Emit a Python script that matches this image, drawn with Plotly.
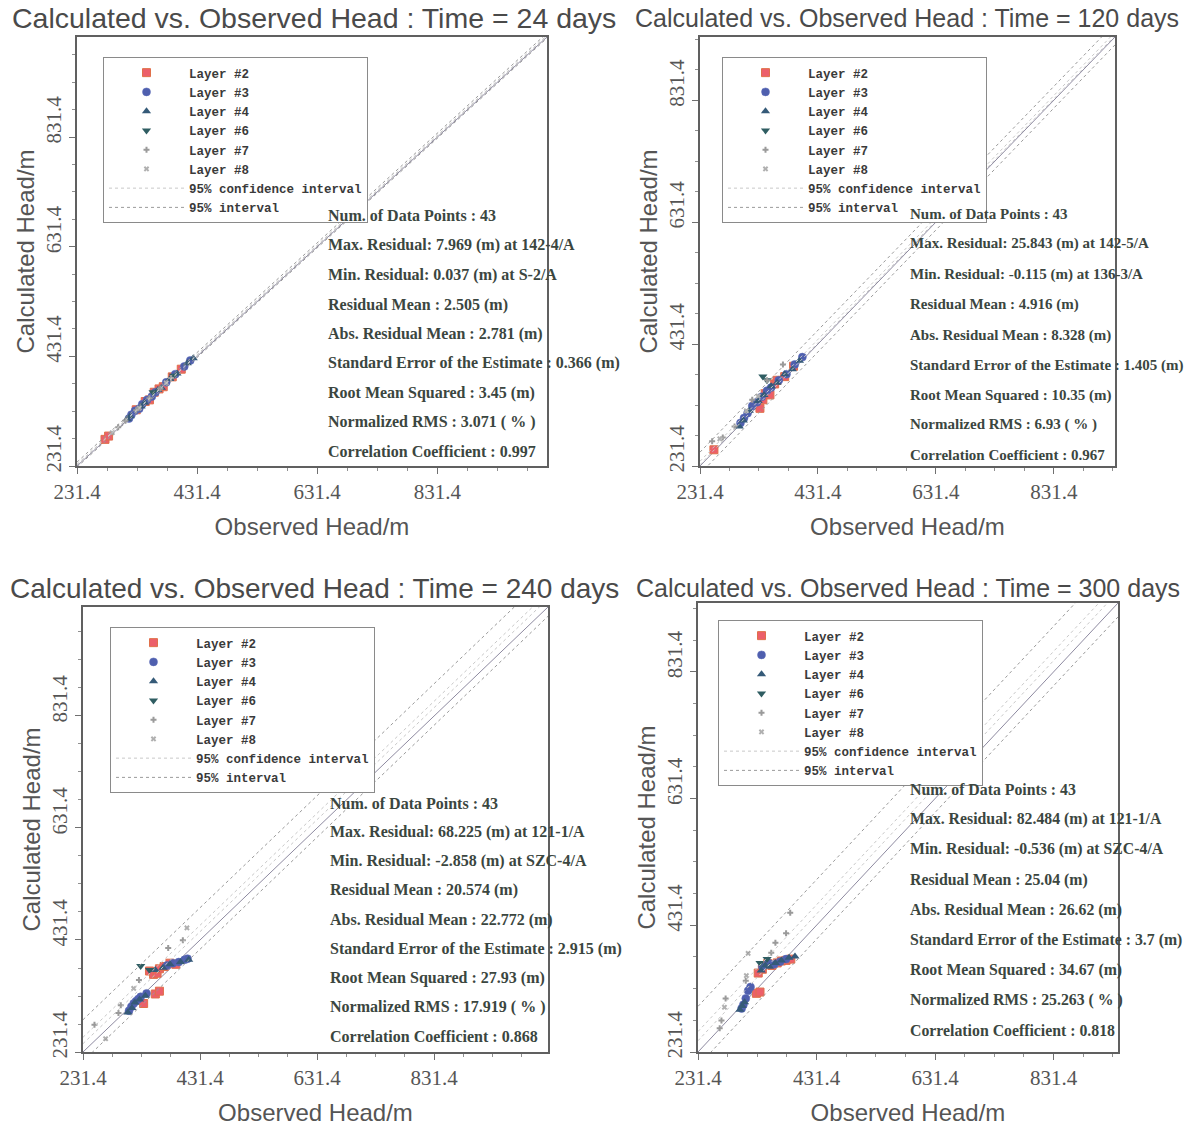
import plotly.graph_objects as go

W, H = 1193, 1128

# ---------------- data ----------------
tick_vals = [231.4, 431.4, 631.4, 831.4]
tick_text = ["231.4", "431.4", "631.4", "831.4"]
times = [24, 120, 240, 300]
axis_max = [1014, 935, 1026, 940]

layer_names = ["Layer #2", "Layer #3", "Layer #4", "Layer #6", "Layer #7", "Layer #8"]

# Time = 24 days
t24_L2_obs = [278, 284, 330, 345, 352, 360, 368, 375, 390, 405]
t24_L2_calc = [280, 286, 334, 349, 352, 366, 372, 376, 394, 408]
t24_L3_obs = [318, 322, 328, 335, 340, 348, 356, 362, 380, 395, 410, 420]
t24_L3_calc = [318, 325, 332, 336, 344, 352, 358, 366, 384, 399, 413, 424]
t24_L4_obs = [315, 320, 338, 344, 366, 372, 386, 398, 415, 425]
t24_L4_calc = [317, 322, 340, 347, 370, 374, 390, 400, 419, 428]
t24_L6_obs = [358, 392]
t24_L6_calc = [366, 396]
t24_L7_obs = [300, 312, 330, 352, 370, 388]
t24_L7_calc = [302, 314, 333, 355, 373, 392]
t24_L8_obs = [290, 335, 380]
t24_L8_calc = [292, 337, 383]

# Time = 120 days
t120_L2_obs = [255, 325, 333, 338, 342, 350, 358, 362, 375, 390]
t120_L2_calc = [258, 332, 326, 340, 350, 348, 366, 372, 378, 395]
t120_L3_obs = [300, 306, 312, 320, 328, 336, 345, 352, 365, 378, 392, 405]
t120_L3_calc = [302, 310, 318, 330, 336, 345, 355, 360, 372, 382, 398, 410]
t120_L4_obs = [298, 305, 315, 330, 340, 352, 362, 375, 388, 400]
t120_L4_calc = [296, 306, 322, 338, 348, 362, 368, 382, 390, 404]
t120_L6_obs = [338, 345]
t120_L6_calc = [378, 372]
t120_L7_obs = [252, 270, 290, 320, 345, 372]
t120_L7_calc = [272, 278, 296, 340, 372, 398]
t120_L8_obs = [265, 310, 330]
t120_L8_calc = [276, 322, 346]

# Time = 240 days
t240_L2_obs = [345, 352, 358, 362, 370, 380, 390, 355, 362, 335]
t240_L2_calc = [376, 370, 372, 380, 384, 390, 388, 335, 340, 318]
t240_L3_obs = [310, 314, 318, 322, 326, 330, 340, 375, 385, 395, 405, 410]
t240_L3_calc = [305, 312, 318, 322, 326, 330, 336, 386, 390, 392, 396, 398]
t240_L4_obs = [308, 315, 320, 328, 338, 355, 368, 380, 398, 412]
t240_L4_calc = [302, 310, 320, 325, 332, 378, 382, 388, 392, 396]
t240_L6_obs = [330, 345]
t240_L6_calc = [385, 378]
t240_L7_obs = [251, 292, 296, 327, 377, 402]
t240_L7_calc = [280, 301, 315, 360, 417, 431]
t240_L8_obs = [270, 318, 409]
t240_L8_calc = [255, 345, 453]

# Time = 300 days
t300_L2_obs = [333, 340, 349, 356, 365, 372, 380, 388, 330, 336]
t300_L2_calc = [356, 362, 371, 368, 372, 375, 376, 378, 324, 326]
t300_L3_obs = [305, 308, 312, 316, 320, 340, 350, 360, 370, 380]
t300_L3_calc = [300, 306, 316, 328, 334, 366, 372, 370, 374, 378]
t300_L4_obs = [302, 306, 310, 338, 345, 352, 362, 372, 385, 395]
t300_L4_calc = [298, 304, 310, 360, 368, 366, 372, 376, 380, 382]
t300_L6_obs = [336, 348]
t300_L6_calc = [372, 378]
t300_L7_obs = [268, 271, 278, 312, 355, 362, 380, 387]
t300_L7_calc = [269, 281, 316, 344, 388, 404, 419, 451]
t300_L8_obs = [276, 313, 316]
t300_L8_calc = [302, 352, 387]

obs_sets = [
    [t24_L2_obs, t24_L3_obs, t24_L4_obs, t24_L6_obs, t24_L7_obs, t24_L8_obs],
    [t120_L2_obs, t120_L3_obs, t120_L4_obs, t120_L6_obs, t120_L7_obs, t120_L8_obs],
    [t240_L2_obs, t240_L3_obs, t240_L4_obs, t240_L6_obs, t240_L7_obs, t240_L8_obs],
    [t300_L2_obs, t300_L3_obs, t300_L4_obs, t300_L6_obs, t300_L7_obs, t300_L8_obs],
]
calc_sets = [
    [t24_L2_calc, t24_L3_calc, t24_L4_calc, t24_L6_calc, t24_L7_calc, t24_L8_calc],
    [t120_L2_calc, t120_L3_calc, t120_L4_calc, t120_L6_calc, t120_L7_calc, t120_L8_calc],
    [t240_L2_calc, t240_L3_calc, t240_L4_calc, t240_L6_calc, t240_L7_calc, t240_L8_calc],
    [t300_L2_calc, t300_L3_calc, t300_L4_calc, t300_L6_calc, t300_L7_calc, t300_L8_calc],
]

# interval offsets (calc - obs)
conf_lo = [1.8, 2.2, 14.9, 17.8]
conf_hi = [3.2, 7.7, 26.3, 32.3]
pred_lo = [-2.1, -12.9, -16.5, -22.0]
pred_hi = [7.1, 22.7, 57.6, 72.0]

stats_24 = ["Num. of Data Points : 43", "Max. Residual: 7.969 (m) at 142-4/A",
            "Min. Residual: 0.037 (m) at S-2/A", "Residual Mean : 2.505 (m)",
            "Abs. Residual Mean : 2.781 (m)", "Standard Error of the Estimate : 0.366 (m)",
            "Root Mean Squared : 3.45 (m)", "Normalized RMS : 3.071 ( % )",
            "Correlation Coefficient : 0.997"]
stats_120 = ["Num. of Data Points : 43", "Max. Residual: 25.843 (m) at 142-5/A",
             "Min. Residual: -0.115 (m) at 136-3/A", "Residual Mean : 4.916 (m)",
             "Abs. Residual Mean : 8.328 (m)", "Standard Error of the Estimate : 1.405 (m)",
             "Root Mean Squared : 10.35 (m)", "Normalized RMS : 6.93 ( % )",
             "Correlation Coefficient : 0.967"]
stats_240 = ["Num. of Data Points : 43", "Max. Residual: 68.225 (m) at 121-1/A",
             "Min. Residual: -2.858 (m) at SZC-4/A", "Residual Mean : 20.574 (m)",
             "Abs. Residual Mean : 22.772 (m)", "Standard Error of the Estimate : 2.915 (m)",
             "Root Mean Squared : 27.93 (m)", "Normalized RMS : 17.919 ( % )",
             "Correlation Coefficient : 0.868"]
stats_300 = ["Num. of Data Points : 43", "Max. Residual: 82.484 (m) at 121-1/A",
             "Min. Residual: -0.536 (m) at SZC-4/A", "Residual Mean : 25.04 (m)",
             "Abs. Residual Mean : 26.62 (m)", "Standard Error of the Estimate : 3.7 (m)",
             "Root Mean Squared : 34.67 (m)", "Normalized RMS : 25.263 ( % )",
             "Correlation Coefficient : 0.818"]
stats_sets = [stats_24, stats_120, stats_240, stats_300]

# ---------------- styling / layout ----------------
def px(x):
    return x / W

def py(y):
    return 1 - y / H

# frames in pixel coords: (left, top, right, bottom)
frames = [(77, 37, 547, 466), (700, 37, 1115, 466), (83, 607, 548, 1052), (698, 603, 1118, 1052)]
title_pos = [(314, 18, 28.5), (907, 18, 25), (314, 588, 28), (908, 588, 25)]
legend_pos = [(103, 57), (722, 57), (110, 627), (718, 620)]
stats_x = [326, 908, 328, 908]
stats_y = [
    [216, 245, 275, 305, 334, 363, 393, 422, 451],
    [214, 243, 274, 305, 335, 365, 395, 424, 455],
    [803, 832, 861, 890, 920, 949, 978, 1007, 1036],
    [789, 819, 849, 880, 910, 940, 970, 1000, 1030],
]
stats_fs = [16, 15, 16, 15.8]

layer_styles = [
    dict(symbol="square", size=8, color="#ec5f6a", line=dict(color="#e0704a", width=1)),
    dict(symbol="circle", size=8, color="#4f5fae", line=dict(color="#5a6ab8", width=0.5)),
    dict(symbol="triangle-up", size=8, color="#355a78", line=dict(width=0)),
    dict(symbol="triangle-down", size=8, color="#2f5d62", line=dict(width=0)),
    dict(symbol="cross", size=5, color="#9a9a9a", line=dict(width=0)),
    dict(symbol="x", size=5, color="#b0b0b0", line=dict(width=0)),
]

fig = go.Figure()
annotations = []
layout = dict(
    width=W, height=H, autosize=False,
    margin=dict(l=0, r=0, t=0, b=0),
    paper_bgcolor="white", plot_bgcolor="white",
    font=dict(family="Liberation Sans", color="#555"),
)

for i in range(4):
    sfx = "" if i == 0 else str(i + 1)
    xa, ya = "x" + sfx, "y" + sfx
    lg = "legend" + sfx
    lo, hi = 231.4, axis_max[i]
    # 1:1 line
    fig.add_trace(go.Scatter(x=[lo, hi], y=[lo, hi], mode="lines", xaxis=xa, yaxis=ya,
                             line=dict(color="#8e8aa0", width=1), showlegend=False,
                             hoverinfo="skip"))
    # layers
    for k, name in enumerate(layer_names):
        st = layer_styles[k]
        fig.add_trace(go.Scatter(
            x=obs_sets[i][k], y=calc_sets[i][k], mode="markers", name=name,
            xaxis=xa, yaxis=ya, legend=lg,
            marker=dict(symbol=st["symbol"], size=st["size"], color=st["color"], line=st["line"]),
        ))
    # interval lines
    fig.add_trace(go.Scatter(
        x=[lo, hi, None, lo, hi],
        y=[lo + conf_hi[i], hi + conf_hi[i], None, lo + conf_lo[i], hi + conf_lo[i]],
        mode="lines", name="95% confidence interval", xaxis=xa, yaxis=ya, legend=lg,
        line=dict(color="#c8c8c8", width=1, dash="dot"),
    ))
    fig.add_trace(go.Scatter(
        x=[lo, hi, None, lo, hi],
        y=[lo + pred_hi[i], hi + pred_hi[i], None, lo + pred_lo[i], hi + pred_lo[i]],
        mode="lines", name="95% interval", xaxis=xa, yaxis=ya, legend=lg,
        line=dict(color="#9a9a9a", width=1, dash="dot"),
    ))

    l, t, r, b = frames[i]
    axis_common = dict(
        range=[lo, hi], showgrid=False, zeroline=False,
        showline=True, mirror=True, linecolor="#606060", linewidth=1.5,
        ticks="outside", ticklen=6, tickcolor="#707070",
        tickvals=tick_vals, ticktext=tick_text,
        tickfont=dict(family="Liberation Serif", size=21, color="#555"),
        minor=dict(ticks="outside", ticklen=3, tickcolor="#909090", tick0=231.4, dtick=50),
        automargin=False, fixedrange=True,
    )
    layout["xaxis" + sfx] = dict(
        axis_common, domain=[px(l), px(r)], anchor=ya,
        title=dict(text="Observed Head/m", standoff=15,
                   font=dict(family="Liberation Sans", size=24, color="#555")),
    )
    layout["yaxis" + sfx] = dict(
        axis_common, domain=[py(b), py(t)], anchor=xa, tickangle=-90, ticklabelshift=-14,
        title=dict(text="Calculated Head/m", standoff=0,
                   font=dict(family="Liberation Sans", size=24, color="#555")),
    )
    lx, ly = legend_pos[i]
    layout[lg] = dict(
        x=px(lx), y=py(ly), xanchor="left", yanchor="top",
        bgcolor="white", bordercolor="#8a8a8a", borderwidth=1,
        font=dict(family="Liberation Mono", size=12.5, color="#3a3a3a", weight="bold"),
        itemwidth=75, traceorder="normal", tracegroupgap=0,
    )
    tx, ty, tfs = title_pos[i]
    annotations.append(dict(
        x=px(tx), y=py(ty), xref="paper", yref="paper", xanchor="center", yanchor="middle",
        text="Calculated vs. Observed Head : Time = %d days" % times[i], showarrow=False,
        font=dict(family="Liberation Sans", size=tfs, color="#4a4a4a"),
    ))
    for j, line in enumerate(stats_sets[i]):
        annotations.append(dict(
            x=px(stats_x[i]), y=py(stats_y[i][j]), xref="paper", yref="paper",
            xanchor="left", yanchor="middle", text=line, showarrow=False,
            font=dict(family="Liberation Serif", size=stats_fs[i], color="#3b4640", weight="bold"),
        ))

layout["annotations"] = annotations
fig.update_layout(**layout)
fig.write_html("out.html", config={"displayModeBar": False},
               post_script="document.body.style.margin='0px';")
